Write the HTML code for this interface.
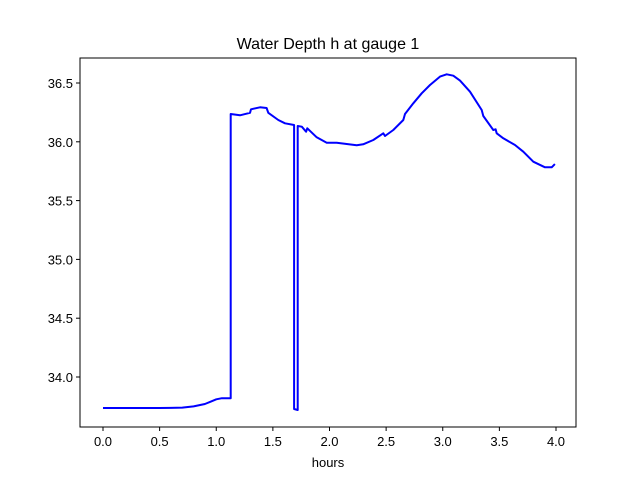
<!DOCTYPE html>
<html><head><meta charset="utf-8"><style>
body{margin:0;background:#fff}
svg{display:block;font-family:"Liberation Sans","DejaVu Sans",sans-serif}
</style></head><body>
<svg id="chart" width="640" height="480" viewBox="0 0 640 480">
<rect width="640" height="480" fill="#fff"/>
<text x="328" y="49" font-size="16" text-anchor="middle">Water Depth h at gauge 1</text>
<text x="328" y="467" font-size="13" text-anchor="middle">hours</text>
<g id="axes"></g>
<path id="series" fill="none" stroke="#0000ff" stroke-width="2" stroke-linejoin="round"/>
<rect x="80" y="58" width="496" height="369" fill="none" stroke="#000" stroke-width="1"/>
</svg>
<script>
const hours=[0,0.5,0.6,0.7,0.8,0.9,0.95,1.0,1.05,1.128,1.128,1.21,1.298,1.307,1.386,1.445,1.46,1.548,1.607,1.687,1.687,1.719,1.719,1.755,1.793,1.804,1.887,1.975,2.064,2.152,2.24,2.298,2.387,2.475,2.49,2.563,2.652,2.667,2.74,2.814,2.887,2.976,3.035,3.093,3.152,3.241,3.344,3.358,3.446,3.467,3.476,3.535,3.638,3.711,3.8,3.903,3.962,3.99];
const depth=[33.736,33.736,33.737,33.74,33.75,33.77,33.79,33.81,33.82,33.82,36.236,36.225,36.247,36.276,36.293,36.287,36.247,36.185,36.157,36.143,33.728,33.719,36.134,36.128,36.086,36.115,36.038,35.992,35.992,35.981,35.97,35.979,36.015,36.072,36.049,36.1,36.185,36.236,36.327,36.412,36.483,36.554,36.574,36.562,36.52,36.426,36.27,36.219,36.1,36.106,36.072,36.03,35.973,35.916,35.831,35.783,35.783,35.81];
const xTicks=[0,0.5,1,1.5,2,2.5,3,3.5,4];
const yTicks=[34,34.5,35,35.5,36,36.5];
const X=v=>103+v*113.25;
const Y=v=>377-(v-34)*117.6;
const NS="http://www.w3.org/2000/svg";
const axes=document.getElementById('axes');
function mk(tag,attrs){const e=document.createElementNS(NS,tag);for(const k in attrs)e.setAttribute(k,attrs[k]);return e;}
xTicks.forEach(v=>{
  const t=mk('line',{x1:X(v),x2:X(v),y1:427,y2:431,stroke:'#000'});
  
  
  axes.appendChild(t);
  const l=mk('text',{x:X(v),y:446,'font-size':13,'text-anchor':'middle'});
  
  
  l.textContent=v.toFixed(1);axes.appendChild(l);
});
yTicks.forEach(v=>{
  const t=mk('line',{x1:76,x2:80,y1:Y(v),y2:Y(v),stroke:'#000'});
  
  
  axes.appendChild(t);
  const l=mk('text',{x:73,y:Y(v)+5,'font-size':13,'text-anchor':'end'});
  
  
  l.textContent=v.toFixed(1);axes.appendChild(l);
});
document.getElementById('series').setAttribute('d',hours.map((h,i)=>(i?'L':'M')+X(h).toFixed(1)+' '+Y(depth[i]).toFixed(1)).join(' '));
</script>
</body></html>
